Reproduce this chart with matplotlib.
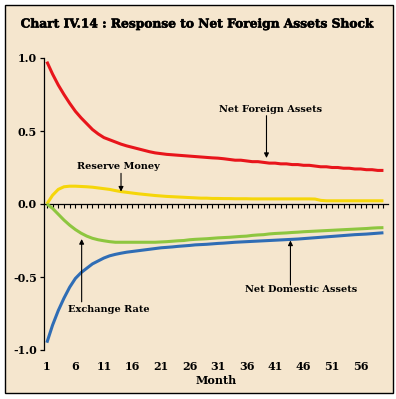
"""Chart IV.14: Response to Net Foreign Assets Shock (impulse responses over 60 months)."""
import matplotlib
matplotlib.use("Agg")
import matplotlib.pyplot as plt
import matplotlib.patheffects as pe
from matplotlib.patches import Rectangle

# ---------------------------------------------------------------------------
# Data
# ---------------------------------------------------------------------------
MONTHS = list(range(1, 61))

NET_FOREIGN_ASSETS = [
    0.975, 0.89, 0.815, 0.75, 0.69, 0.635, 0.59, 0.55, 0.51, 0.48,
    0.455, 0.44, 0.425, 0.41, 0.398, 0.388, 0.378, 0.368, 0.358, 0.35,
    0.345, 0.34, 0.337, 0.334, 0.331, 0.328, 0.325, 0.322, 0.319, 0.316,
    0.314, 0.31, 0.305, 0.30, 0.30, 0.295, 0.29, 0.29, 0.285, 0.28,
    0.28, 0.275, 0.275, 0.27, 0.27, 0.265, 0.265, 0.26, 0.255, 0.255,
    0.25, 0.25, 0.245, 0.245, 0.24, 0.24, 0.235, 0.235, 0.23, 0.23,
]
RESERVE_MONEY = [
    0.0, 0.06, 0.10, 0.118, 0.122, 0.122, 0.12, 0.118, 0.115, 0.11,
    0.105, 0.10, 0.092, 0.085, 0.08, 0.075, 0.07, 0.066, 0.062, 0.058,
    0.055, 0.052, 0.05, 0.048, 0.046, 0.044, 0.042, 0.04, 0.04, 0.038,
    0.038, 0.037, 0.037, 0.036, 0.036, 0.036, 0.035, 0.035, 0.035, 0.035,
    0.035, 0.035, 0.035, 0.035, 0.035, 0.035, 0.035, 0.034, 0.025, 0.022,
    0.022, 0.022, 0.022, 0.022, 0.022, 0.022, 0.022, 0.022, 0.022, 0.022,
]
EXCHANGE_RATE = [
    0.0, -0.03, -0.07, -0.11, -0.145, -0.175, -0.20, -0.22, -0.235, -0.245,
    -0.252, -0.258, -0.262, -0.262, -0.262, -0.262, -0.262, -0.262, -0.262, -0.262,
    -0.26, -0.258, -0.255, -0.252, -0.25, -0.245, -0.242, -0.24, -0.238, -0.235,
    -0.232, -0.23, -0.228, -0.225, -0.222, -0.22, -0.215, -0.212, -0.21, -0.205,
    -0.202, -0.20, -0.198, -0.195, -0.193, -0.19, -0.188, -0.186, -0.184, -0.182,
    -0.18, -0.178, -0.176, -0.174, -0.172, -0.17, -0.168, -0.165, -0.163, -0.162,
]
NET_DOMESTIC_ASSETS = [
    -0.95, -0.83, -0.73, -0.645, -0.57, -0.51, -0.47, -0.44, -0.41, -0.39,
    -0.37, -0.355, -0.345, -0.337, -0.33, -0.325, -0.32, -0.315, -0.31, -0.305,
    -0.30, -0.297, -0.294, -0.29, -0.287, -0.284, -0.28, -0.278, -0.276, -0.273,
    -0.27, -0.268, -0.265, -0.262, -0.26, -0.258, -0.256, -0.254, -0.252, -0.25,
    -0.248, -0.246, -0.244, -0.242, -0.24, -0.237, -0.234, -0.231, -0.228, -0.225,
    -0.222, -0.219, -0.216, -0.213, -0.21, -0.208, -0.206, -0.203, -0.20, -0.197,
]

X_TICKS = list(range(1, 60, 5))
Y_TICKS = [-1.0, -0.5, 0.0, 0.5, 1.0]

BG = "#F5E6CE"
FONT = "DejaVu Serif"

fig = plt.figure(figsize=(3.96, 3.99), dpi=100)
fig.patch.set_facecolor("white")
fig.patches.append(Rectangle((5 / 396, 1 - 393 / 399), 388 / 396, 388 / 399,
                             transform=fig.transFigure, facecolor=BG,
                             edgecolor="black", linewidth=1.0, zorder=-5))

fig.text(0.5, 1 - 24 / 399, "Chart IV.14 : Response to Net Foreign Assets Shock",
         ha="center", va="center", fontsize=8.8, fontweight="heavy", family=FONT,
         path_effects=[pe.withStroke(linewidth=0.4, foreground="black")])

ax = fig.add_axes([44 / 396, 1 - 350 / 399, 344 / 396, 292 / 399])
ax.set_facecolor("none")

ax.plot(MONTHS, NET_FOREIGN_ASSETS, color="#E8151B", lw=2.2, solid_capstyle="butt")
ax.plot(MONTHS, RESERVE_MONEY, color="#F5D60A", lw=2.2, solid_capstyle="butt")
ax.plot(MONTHS, EXCHANGE_RATE, color="#8DC63F", lw=2.2, solid_capstyle="butt")
ax.plot(MONTHS, NET_DOMESTIC_ASSETS, color="#2F6DB5", lw=2.2, solid_capstyle="butt")

ax.set_xlim(0.5, 60.8)
ax.set_ylim(-1.0, 1.0)
for side in ("top", "right", "bottom"):
    ax.spines[side].set_visible(False)
ax.spines["left"].set_linewidth(0.9)

ax.set_yticks(Y_TICKS)
ax.set_yticklabels([f"{v:.1f}" for v in Y_TICKS])
ax.tick_params(axis="y", direction="out", length=3, width=0.9, pad=2, labelsize=8)
ax.set_xticks(X_TICKS)
ax.set_xticklabels([str(m) for m in X_TICKS])
ax.tick_params(axis="x", length=0, pad=8, labelsize=8)
for lab in ax.get_xticklabels() + ax.get_yticklabels():
    lab.set_family(FONT)
    lab.set_fontweight("bold")
ax.set_xlabel("Month", family=FONT, fontweight="bold", fontsize=8, labelpad=2)

# zero line with a tick for every month
zero = ax.secondary_xaxis(0.5)
zero.set_xticks(MONTHS)
zero.set_xticklabels([])
zero.tick_params(direction="in", length=3, width=0.8)
zero.spines["top"].set_linewidth(0.9)
zero.spines["bottom"].set_linewidth(0.9)

arrow = dict(arrowstyle="-|>", color="black", lw=0.8, mutation_scale=7,
             shrinkA=0, shrinkB=0)
lab_kw = dict(family=FONT, fontweight="bold", fontsize=7, ha="center", va="center")

ax.annotate("", xy=(39.5, 0.315), xytext=(39.5, 0.605), arrowprops=arrow)
ax.text(40.2, 0.65, "Net Foreign Assets", **lab_kw)

ax.annotate("", xy=(14.0, 0.085), xytext=(14.0, 0.21), arrowprops=arrow)
ax.text(13.5, 0.255, "Reserve Money", **lab_kw)

ax.annotate("", xy=(7.1, -0.24), xytext=(7.1, -0.67), arrowprops=arrow)
ax.text(11.9, -0.72, "Exchange Rate", **lab_kw)

ax.annotate("", xy=(43.7, -0.25), xytext=(43.7, -0.555), arrowprops=arrow)
ax.text(45.5, -0.585, "Net Domestic Assets", **lab_kw)

fig.savefig("out.png", dpi=100, facecolor=fig.get_facecolor())
